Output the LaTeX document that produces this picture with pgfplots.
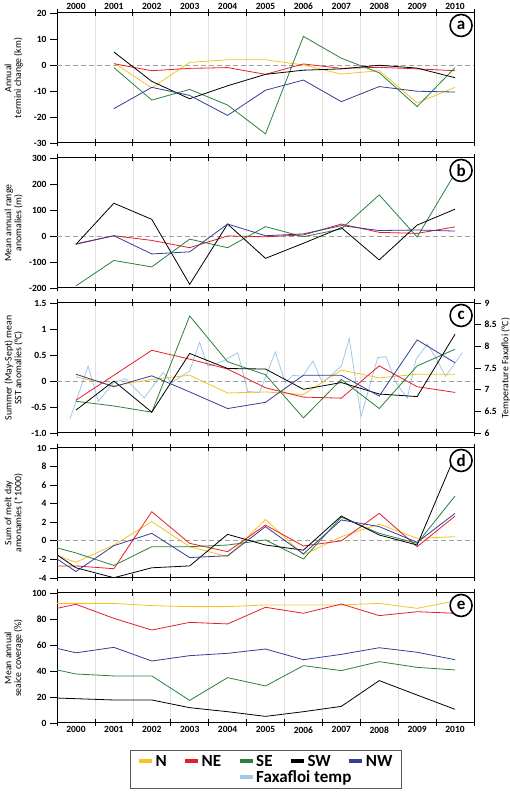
\documentclass[border=0pt]{standalone}
\usepackage{pgfplots}
\pgfplotsset{compat=1.18}
\usepackage{fontspec}
\setmainfont{Carlito}
\definecolor{cN}{RGB}{245,195,35}
\definecolor{cNE}{RGB}{230,30,40}
\definecolor{cSE}{RGB}{40,130,60}
\definecolor{cSW}{RGB}{0,0,0}
\definecolor{cNW}{RGB}{55,60,150}
\definecolor{cF}{RGB}{160,200,230}
\definecolor{gridc}{RGB}{225,225,225}
\definecolor{zeroc}{RGB}{160,160,160}
\tikzset{lab/.style={draw, fill=white, circle, line width=1.6pt, minimum size=22pt, inner sep=0pt, font=\bfseries\fontsize{17}{17}\selectfont}}
\pgfplotsset{
  panel/.style={
    scale only axis, width=417pt, height=130pt,
    xmin=1999.5, xmax=2010.5,
    xtick={1999.5,2000.5,2001.5,2002.5,2003.5,2004.5,2005.5,2006.5,2007.5,2008.5,2009.5,2010.5},
    xticklabels={},
    xmajorgrids, grid style={draw=gridc, line width=0.6pt},
    xtick align=center, ytick align=outside, major tick length=7pt,
    ytick pos=left,
    every tick/.style={black, line width=0.8pt},
    axis line style={line width=1pt},
    ticklabel style={font=\bfseries\fontsize{9.5}{10}\selectfont},
    every axis y label/.style={at={(axis description cs:-0.104,0.5)}, rotate=90, anchor=center, align=center, font=\fontsize{9.8}{9.8}\selectfont},
    every axis plot/.append style={line width=0.8pt},
  },
  years/.style={
    extra x ticks={2000,2001,2002,2003,2004,2005,2006,2007,2008,2009,2010},
    extra x tick labels={2000,2001,2002,2003,2004,2005,2006,2007,2008,2009,2010},
    extra x tick style={major tick length=0pt, grid=none},
  },
  zl/.style={forget plot, zeroc, line width=0.8pt, dash pattern=on 5pt off 3pt},
}
\begin{document}
\begin{tikzpicture}
\useasboundingbox (0pt,0pt) rectangle (510pt,797pt);
% ---------- (a)
\begin{axis}[panel, years, xticklabel pos=upper, at={(57pt,784pt)}, anchor=north west,
  ymin=-30, ymax=20, ytick={-30,-20,-10,0,10,20}, yticklabels={-30,-20,-10,0,10,20},
  ylabel={Annual\\termini change (km)}]
\addplot[zl] coordinates {(1999.5,0) (2010.5,0)};
\addplot[cN] coordinates {(2001,0.8)(2002,-8.8)(2003,1)(2004,2)(2005,2)(2006,0)(2007,-3.5)(2008,-2.2)(2009,-14.6)(2010,-8.6)};
\addplot[cNE] coordinates {(2001,0.5)(2002,-2.2)(2003,-1.3)(2004,-1)(2005,-3.6)(2006,0.4)(2007,-1.3)(2008,-0.9)(2009,-1.5)(2010,-2.2)};
\addplot[cSE] coordinates {(2001,-1)(2002,-13.5)(2003,-9.4)(2004,-15.4)(2005,-26.5)(2006,11)(2007,2.6)(2008,-3)(2009,-16)(2010,-1)};
\addplot[cSW] coordinates {(2001,5)(2002,-6.3)(2003,-13)(2004,-8)(2005,-3.6)(2006,-2)(2007,-1.5)(2008,-0.1)(2009,-1.2)(2010,-4.9)};
\addplot[cNW] coordinates {(2001,-16.8)(2002,-8.6)(2003,-11.7)(2004,-19.4)(2005,-9.7)(2006,-5.8)(2007,-14.1)(2008,-8.3)(2009,-10.1)(2010,-10.4)};
\node[lab] at (rel axis cs:0.969,0.904) {a};
\end{axis}
% ---------- (b)
\begin{axis}[panel, at={(57pt,639pt)}, anchor=north west,
  ymin=-200, ymax=300, ytick={-200,-100,0,100,200,300}, yticklabels={-200,-100,0,100,200,300},
  ylabel={Mean annual range\\anomalies (m)}]
\addplot[zl] coordinates {(1999.5,0) (2010.5,0)};
\addplot[cNE] coordinates {(2000,-32)(2001,1)(2002,-17)(2003,-45)(2004,0)(2005,-3)(2006,4)(2007,46)(2008,14)(2009,10)(2010,35)};
\addplot[cSE] coordinates {(2000,-192)(2001,-94)(2002,-119)(2003,-12)(2004,-45)(2005,36)(2006,-3)(2007,27)(2008,158)(2009,-4)(2010,241)};
\addplot[cSW] coordinates {(2000,-32)(2001,126)(2002,64)(2003,-186)(2004,46)(2005,-86)(2006,-28)(2007,32)(2008,-92)(2009,42)(2010,103)};
\addplot[cNW] coordinates {(2000,-30)(2001,1)(2002,-69)(2003,-61)(2004,46)(2005,1)(2006,8)(2007,40)(2008,21)(2009,23)(2010,19)};
\node[lab] at (rel axis cs:0.969,0.904) {b};
\end{axis}
% ---------- (c) right axis (Faxafloi)
\begin{axis}[panel, at={(57pt,494pt)}, anchor=north west,
  ytick pos=right, yticklabel pos=right,
  ymin=6, ymax=9, ytick={6,6.5,7,7.5,8,8.5,9}, yticklabels={6,6.5,7,7.5,8,8.5,9},
  ylabel={Temperature Faxafloi  (°C)},
  ylabel style={at={(axis description cs:1.076,0.5)}}]
\addplot[cF] coordinates {(1999.84,6.32)(2000.32,7.54)(2000.59,6.73)(2001.0,7.17)(2001.31,7.25)(2001.8,6.81)(2002.3,7.40)(2002.52,7.16)(2003.0,7.43)(2003.26,8.09)(2003.48,7.54)(2003.88,7.66)(2004.27,7.85)(2004.53,6.96)(2004.84,6.93)(2005.26,7.87)(2005.52,7.16)(2005.72,7.33)(2005.98,7.31)(2006.25,7.66)(2006.5,7.16)(2007.0,7.54)(2007.21,8.18)(2007.52,6.38)(2007.96,7.74)(2008.18,7.76)(2008.44,7.16)(2008.74,6.81)(2008.97,7.70)(2009.27,8.05)(2009.49,7.74)(2009.75,7.31)(2010.19,7.85)};
\end{axis}
% ---------- (c) left axis
\begin{axis}[panel, xmajorgrids=false, at={(57pt,494pt)}, anchor=north west,
  ymin=-1, ymax=1.5, ytick={-1,-0.5,0,0.5,1,1.5}, yticklabels={-1.0,-0.5,0,0.5,1,1.5},
  ylabel={Summer (May-Sept) mean\\SST anomalies  (°C)}]
\addplot[zl] coordinates {(1999.5,0) (2010.5,0)};
\addplot[cN] coordinates {(2000,0.08)(2001,-0.09)(2002,0.03)(2003,0.11)(2004,-0.23)(2005,-0.21)(2006,-0.26)(2007,0.21)(2008,0.06)(2009,0.13)(2010,0.13)};
\addplot[cNE] coordinates {(2000,-0.37)(2001,0.11)(2002,0.59)(2003,0.42)(2004,0.23)(2005,-0.13)(2006,-0.31)(2007,-0.33)(2008,0.29)(2009,-0.11)(2010,-0.22)};
\addplot[cSE] coordinates {(2000,-0.39)(2001,-0.48)(2002,-0.6)(2003,1.25)(2004,0.37)(2005,0.12)(2006,-0.71)(2007,0.03)(2008,-0.53)(2009,0.29)(2010,0.61)};
\addplot[cSW] coordinates {(2000,-0.56)(2001,0)(2002,-0.6)(2003,0.53)(2004,0.24)(2005,0.23)(2006,-0.16)(2007,-0.03)(2008,-0.25)(2009,-0.3)(2010,0.9)};
\addplot[cNW] coordinates {(2000,0.13)(2001,-0.11)(2002,0.1)(2003,-0.21)(2004,-0.53)(2005,-0.41)(2006,0.11)(2007,0.11)(2008,-0.29)(2009,0.79)(2010,0.35)};
\node[lab] at (rel axis cs:0.969,0.904) {c};
\end{axis}
% ---------- (d)
\begin{axis}[panel, at={(57pt,349pt)}, anchor=north west,
  ymin=-4, ymax=10, ytick={-4,-2,0,2,4,6,8,10}, yticklabels={-4,-2,0,2,4,6,8,10},
  ylabel={Sum of melt day\\amonamies (*1000)}]
\addplot[zl] coordinates {(1999.5,0) (2010.5,0)};
\addplot[cN] coordinates {(1999.5,-1.6)(2000,-2.3)(2001,-0.45)(2002,2.07)(2003,-0.63)(2004,-1.7)(2005,2.3)(2006,-1.5)(2007,0.45)(2008,1.8)(2009,0.27)(2010,0.45)};
\addplot[cNE] coordinates {(1999.5,-2.7)(2000,-2.7)(2001,-3.0)(2002,3.14)(2003,-0.27)(2004,-1.16)(2005,1.7)(2006,-0.55)(2007,0)(2008,2.96)(2009,-0.63)(2010,2.67)};
\addplot[cSE] coordinates {(1999.5,-0.75)(2000,-1.3)(2001,-2.65)(2002,-0.63)(2003,-0.63)(2004,-0.45)(2005,0.1)(2006,-1.95)(2007,2.55)(2008,0.81)(2009,-0.27)(2010,4.83)};
\addplot[cSW] coordinates {(1999.5,-1.5)(2000,-2.9)(2001,-3.97)(2002,-2.9)(2003,-2.7)(2004,0.7)(2005,-0.45)(2006,-1.0)(2007,2.67)(2008,0.63)(2009,-0.45)(2010,9.2)};
\addplot[cNW] coordinates {(1999.5,-1.95)(2000,-3.3)(2001,-0.52)(2002,0.81)(2003,-1.8)(2004,-1.6)(2005,1.53)(2006,-1.4)(2007,2.25)(2008,1.53)(2009,-0.16)(2010,2.96)};
\node[lab] at (rel axis cs:0.969,0.904) {d};
\end{axis}
% ---------- (e)
\begin{axis}[panel, years, at={(57pt,204pt)}, anchor=north west,
  ymin=0, ymax=100, ytick={0,20,40,60,80,100}, yticklabels={0,20,40,60,80,100},
  ylabel={Mean annual\\seaice coverage (\%)},
  legend columns=5,
  legend cell align=left,
  legend image code/.code={\draw[#1, line width=4pt] (0pt,0pt) -- (13pt,0pt);},
  legend style={at={(axis description cs:0.5,-0.208)}, anchor=north,
    draw=black!65, line width=0.8pt, inner xsep=7pt, inner ysep=3pt,
    font=\bfseries\fontsize{17}{17}\selectfont,
    nodes={inner sep=1.5pt},
    /tikz/every even column/.append style={column sep=15pt}},
  ]
\addplot[cN] coordinates {(1999.5,92)(2000,92)(2001,92)(2002,90.3)(2003,89.5)(2004,89.5)(2005,90.8)(2006,90.8)(2007,90.8)(2008,92)(2009,88.2)(2010,93.8)};
\addlegendentry{N}
\addplot[cNE] coordinates {(1999.5,88.2)(2000,91.3)(2001,80.5)(2002,71.5)(2003,77.4)(2004,76.2)(2005,89)(2006,84.4)(2007,91.5)(2008,82.6)(2009,85.6)(2010,84.4)};
\addlegendentry{NE}
\addplot[cSE] coordinates {(1999.5,40.8)(2000,37.7)(2001,36.2)(2002,36.2)(2003,17.4)(2004,34.9)(2005,28.5)(2006,44.1)(2007,40.3)(2008,47.2)(2009,42.8)(2010,40.8)};
\addlegendentry{SE}
\addplot[cSW] coordinates {(1999.5,19.2)(2000,18.7)(2001,17.7)(2002,17.7)(2003,11.8)(2004,8.7)(2005,5.1)(2006,8.7)(2007,12.8)(2008,32.6)(2009,21.5)(2010,10.5)};
\addlegendentry{SW}
\addplot[cNW] coordinates {(1999.5,57.4)(2000,54)(2001,58.2)(2002,47.7)(2003,51.8)(2004,53.6)(2005,56.9)(2006,48.7)(2007,52.8)(2008,57.9)(2009,54.4)(2010,48.7)};
\addlegendentry{NW}
\addlegendimage{empty legend}\addlegendentry{}
\addlegendimage{empty legend}\addlegendentry{}
\addlegendimage{cF}\addlegendentry{\makebox[0pt][l]{Faxafloi temp}}
\node[lab] at (rel axis cs:0.969,0.904) {e};
\end{axis}
\end{tikzpicture}
\end{document}
